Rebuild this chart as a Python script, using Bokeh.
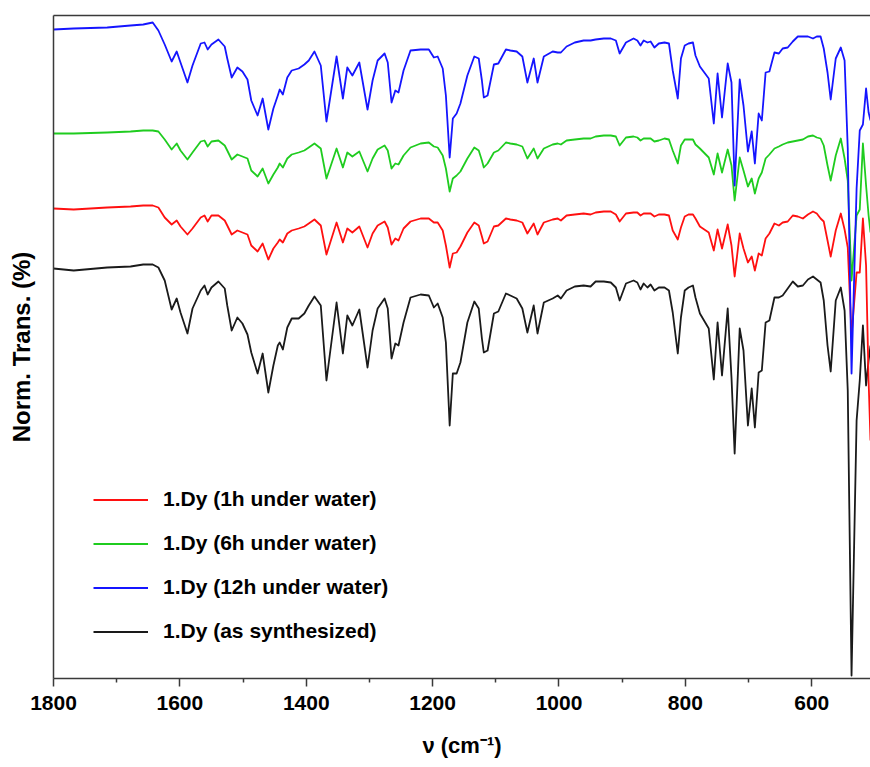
from bokeh.plotting import figure
from bokeh.models import Range1d, FixedTicker, LinearAxis, Legend, LegendItem, ColumnDataSource
from bokeh.embed import file_html
from bokeh.resources import INLINE

# wavenumber grid (cm^-1)
wavenumber = [
    1800, 1768, 1715, 1678, 1658, 1643, 1634, 1624, 1613, 1605,
    1599, 1588, 1580, 1567, 1561, 1556, 1550, 1539, 1529, 1525,
    1518, 1509, 1501, 1493, 1487, 1477, 1469, 1460, 1452, 1445,
    1442, 1437, 1430, 1423, 1412, 1403, 1396, 1387, 1377, 1368,
    1352, 1342, 1335, 1327, 1316, 1303, 1295, 1287, 1276, 1271,
    1265, 1259, 1254, 1246, 1235, 1219, 1206, 1198, 1192, 1184,
    1179, 1173, 1168, 1162, 1156, 1145, 1134, 1127, 1122, 1119,
    1113, 1103, 1096, 1084, 1077, 1067, 1058, 1050, 1040, 1034,
    1024, 1010, 1002, 997, 988, 975, 961, 950, 942, 929,
    918, 910, 904, 894, 882, 876, 871, 866, 860, 855,
    849, 842, 833, 826, 820, 812, 807, 801, 795, 788,
    784, 777, 763, 755, 749, 742, 733, 727, 722, 714,
    708, 701, 695, 690, 684, 679, 673, 667, 659, 652,
    646, 638, 630, 622, 614, 606, 598, 592, 586, 581,
    575, 570, 562, 554, 548, 543, 537, 529, 524, 519,
    514, 510, 507,
]

# offset normalised transmission (arbitrary units)
trans_12h = [
    64.9, 65.0, 65.1, 65.3, 65.4, 65.6, 64.8, 63.4, 61.7, 62.7,
    61.6, 59.6, 61.3, 63.5, 63.6, 62.9, 63.4, 63.9, 63.2, 62.0,
    60.1, 61.1, 60.7, 59.9, 57.8, 56.3, 58.0, 54.9, 57.0, 58.3,
    58.9, 58.4, 60.1, 60.8, 61.0, 61.4, 61.8, 62.7, 61.3, 55.7,
    62.2, 58.0, 61.1, 60.3, 61.6, 56.9, 59.8, 61.8, 62.5, 61.6,
    57.6, 58.8, 58.6, 60.8, 62.8, 62.9, 62.9, 62.1, 62.2, 61.0,
    58.3, 52.1, 56.0, 56.5, 57.5, 60.3, 62.2, 62.0, 59.8, 58.1,
    58.3, 61.4, 61.5, 62.9, 62.8, 62.7, 62.2, 59.6, 62.0, 59.6,
    62.2, 62.7, 62.6, 62.6, 63.2, 63.6, 63.8, 63.8, 63.9, 64.0,
    64.0, 63.8, 62.5, 63.6, 64.0, 63.8, 63.3, 63.8, 63.6, 63.7,
    63.1, 63.5, 63.6, 63.5, 60.8, 58.0, 62.0, 63.3, 63.5, 63.6,
    62.3, 61.2, 60.0, 55.5, 60.5, 56.1, 61.5, 59.6, 49.3, 59.9,
    57.3, 52.7, 54.7, 51.5, 56.5, 55.8, 60.6, 60.7, 62.6, 62.5,
    63.0, 63.1, 63.7, 64.2, 64.2, 64.2, 64.0, 64.2, 64.2, 63.0,
    60.6, 57.9, 62.0, 63.1, 61.8, 53.0, 30.5, 49.0, 54.8, 55.4,
    59.0, 56.6, 55.8,
]

trans_6h = [
    54.5, 54.5, 54.6, 54.7, 54.8, 54.8, 54.7, 53.9, 52.9, 53.5,
    52.8, 51.9, 52.6, 53.7, 53.8, 53.2, 53.7, 53.8, 53.3, 52.8,
    51.9, 52.4, 52.2, 52.0, 50.8, 50.2, 51.0, 49.5, 50.4, 51.1,
    51.5, 51.1, 52.0, 52.4, 52.6, 52.8, 53.1, 53.5, 53.0, 50.0,
    53.0, 51.1, 52.6, 52.2, 52.7, 50.7, 52.0, 52.9, 53.3, 52.8,
    51.0, 51.5, 51.4, 52.3, 53.1, 53.5, 53.6, 53.2, 53.1, 52.3,
    51.0, 48.7, 50.0, 50.3, 50.7, 52.0, 53.1, 52.8, 51.8, 51.1,
    51.5, 52.6, 52.8, 53.6, 53.5, 53.4, 53.2, 52.0, 53.0, 52.0,
    53.0, 53.4, 53.5, 53.4, 53.8, 53.9, 54.0, 54.0, 54.2, 54.3,
    54.3, 54.2, 53.3, 54.1, 54.2, 54.1, 53.8, 54.0, 54.0, 54.0,
    53.7, 53.8, 54.0, 53.9, 52.8, 51.5, 53.3, 53.9, 53.9, 53.9,
    53.4, 53.0, 52.1, 50.4, 52.5, 50.6, 52.9, 51.3, 47.8, 52.1,
    50.8, 49.2, 50.0, 48.5, 50.0, 50.6, 52.0, 52.4, 53.0, 53.2,
    53.4, 53.6, 53.7, 53.8, 53.9, 54.2, 54.3, 54.1, 54.0, 53.3,
    51.3, 49.8, 52.3, 54.0, 52.0, 49.8, 39.8, 46.3, 46.9, 53.5,
    49.3, 46.3, 44.6,
]

trans_1h = [
    47.0, 46.9, 47.1, 47.2, 47.3, 47.3, 47.1, 46.1, 45.4, 45.8,
    45.2, 44.4, 45.0, 46.1, 46.3, 45.7, 46.3, 46.3, 45.8, 45.3,
    44.4, 44.8, 44.6, 44.4, 43.3, 42.7, 43.5, 41.9, 43.0, 43.6,
    43.9, 43.6, 44.5, 44.8, 45.0, 45.2, 45.5, 45.9, 45.3, 42.4,
    45.6, 43.6, 45.0, 44.6, 45.2, 43.1, 44.5, 45.3, 45.7, 45.1,
    43.4, 44.0, 43.8, 45.0, 45.7, 46.0, 46.0, 45.6, 45.6, 44.8,
    43.3, 41.1, 42.5, 42.6, 43.2, 44.6, 45.6, 45.3, 44.2, 43.5,
    43.7, 45.2, 45.3, 46.0, 45.9, 45.8, 45.6, 44.5, 45.5, 44.4,
    45.6, 45.9, 46.0, 45.8, 46.3, 46.4, 46.5, 46.4, 46.6, 46.7,
    46.7, 46.4, 45.7, 46.5, 46.6, 46.6, 46.3, 46.5, 46.5, 46.5,
    46.2, 46.4, 46.4, 46.3, 44.8, 43.9, 45.1, 46.2, 46.4, 46.4,
    46.0, 45.2, 44.6, 42.8, 44.9, 43.0, 45.4, 43.3, 40.2, 44.5,
    43.0, 41.6, 42.2, 40.8, 42.5, 42.3, 44.0, 44.5, 45.5, 45.3,
    45.6, 45.7, 46.3, 46.2, 46.0, 46.4, 46.7, 46.5, 46.0, 45.7,
    43.8, 42.2, 44.8, 46.5, 44.9, 43.1, 34.3, 40.6, 40.6, 46.0,
    41.3, 29.8, 23.8,
]

trans_as = [
    41.0, 40.8, 41.1, 41.2, 41.4, 41.4, 41.1, 39.8, 36.9, 38.0,
    36.6, 34.5, 37.0, 38.8, 39.3, 38.4, 39.1, 39.7, 39.0, 37.3,
    34.8, 36.1, 35.5, 34.4, 32.6, 30.5, 32.5, 28.6, 31.3, 33.3,
    33.6, 32.9, 35.1, 36.0, 36.0, 36.5, 37.3, 38.2, 37.3, 29.8,
    37.6, 32.5, 36.3, 35.3, 36.9, 31.1, 34.8, 37.0, 38.0, 37.0,
    32.0, 33.5, 33.3, 35.6, 38.1, 38.4, 38.3, 37.1, 37.5, 36.1,
    33.6, 25.3, 30.5, 30.5, 31.6, 35.6, 37.7, 37.0, 34.0, 32.6,
    32.8, 36.5, 36.7, 38.5, 38.3, 38.0, 37.0, 34.6, 37.3, 34.5,
    37.6, 38.0, 38.3, 38.0, 38.8, 39.2, 39.3, 39.2, 39.7, 39.7,
    39.6, 39.1, 37.8, 39.5, 39.8, 39.6, 38.9, 39.5, 39.1, 39.4,
    38.8, 39.1, 39.1, 38.8, 36.6, 32.5, 36.1, 38.8, 39.1, 39.3,
    38.1, 36.5, 35.0, 29.9, 35.6, 30.3, 37.0, 30.1, 22.5, 35.0,
    32.8, 25.3, 29.0, 25.1, 30.6, 30.8, 35.6, 35.8, 38.1, 38.1,
    38.3, 39.0, 39.7, 39.2, 39.3, 39.9, 40.2, 39.9, 39.6, 37.8,
    33.3, 30.7, 37.8, 39.1, 36.8, 28.8, 0.3, 25.8, 29.8, 35.3,
    29.3, 31.8, 33.3,
]

labels = [
    "1.Dy (1h under water)",
    "1.Dy (6h under water)",
    "1.Dy (12h under water)",
    "1.Dy (as synthesized)",
]
major_ticks = [1800, 1600, 1400, 1200, 1000, 800, 600]
minor_ticks = [1700, 1500, 1300, 1100, 900, 700]

FONT = "Liberation Sans"
AXIS_COLOR = "#3a3a3a"

src = ColumnDataSource(dict(x=wavenumber, a=trans_as, r=trans_1h, g=trans_6h, b=trans_12h))

p = figure(width=870, height=767, output_backend="svg", toolbar_location=None,
           x_range=Range1d(1800, 507), y_range=Range1d(0, 66.3),
           min_border_left=53, min_border_right=0, min_border_top=15, min_border_bottom=89)
p.xgrid.visible = False
p.ygrid.visible = False
p.outline_line_color = None
p.background_fill_color = "white"
p.border_fill_color = "white"

lw = 1.8
r_black = p.line("x", "a", source=src, line_color="#1a1a1a", line_width=lw, line_join="round")
r_red = p.line("x", "r", source=src, line_color="#ff1010", line_width=lw, line_join="round")
r_green = p.line("x", "g", source=src, line_color="#1fcc1f", line_width=lw, line_join="round")
r_blue = p.line("x", "b", source=src, line_color="#1515ff", line_width=lw, line_join="round")

# bottom axis
xa = p.xaxis[0]
xa.ticker = FixedTicker(ticks=major_ticks, minor_ticks=minor_ticks)
xa.major_tick_in = 0
xa.major_tick_out = 8
xa.minor_tick_in = 0
xa.minor_tick_out = 4
xa.axis_line_color = AXIS_COLOR
xa.axis_line_width = 1.5
xa.major_tick_line_color = AXIS_COLOR
xa.major_tick_line_width = 1.5
xa.minor_tick_line_color = AXIS_COLOR
xa.minor_tick_line_width = 1.5
xa.major_label_text_font = FONT
xa.major_label_text_font_style = "bold"
xa.major_label_text_font_size = "21px"
xa.major_label_text_color = "black"
xa.major_label_standoff = 9
xa.axis_label = "\u03bd (cm\u207b\u00b9)"
xa.axis_label_text_font = FONT
xa.axis_label_text_font_style = "bold"
xa.axis_label_text_font_size = "22px"
xa.axis_label_text_color = "black"
xa.axis_label_standoff = 20

# left axis
ya = p.yaxis[0]
ya.ticker = FixedTicker(ticks=[])
ya.major_tick_in = 0
ya.major_tick_out = 0
ya.minor_tick_in = 0
ya.minor_tick_out = 0
ya.axis_line_color = AXIS_COLOR
ya.axis_line_width = 1.5
ya.axis_label = "Norm. Trans. (%)"
ya.axis_label_text_font = FONT
ya.axis_label_text_font_style = "bold"
ya.axis_label_text_font_size = "24px"
ya.axis_label_text_color = "black"
ya.axis_label_standoff = 19

# top border line
top = LinearAxis(ticker=FixedTicker(ticks=[]), axis_line_color=AXIS_COLOR, axis_line_width=1.5,
                 major_tick_in=0, major_tick_out=0, minor_tick_in=0, minor_tick_out=0,
                 major_label_text_font_size="0px")
p.add_layout(top, "above")

legend = Legend(items=[
    LegendItem(label=labels[0], renderers=[r_red]),
    LegendItem(label=labels[1], renderers=[r_green]),
    LegendItem(label=labels[2], renderers=[r_blue]),
    LegendItem(label=labels[3], renderers=[r_black]),
], location=(40, 35))
legend.label_text_font = FONT
legend.label_text_font_style = "bold"
legend.label_text_font_size = "21px"
legend.label_text_color = "black"
legend.glyph_width = 55
legend.glyph_height = 21
legend.label_height = 21
legend.label_standoff = 15
legend.spacing = 20
legend.padding = 0
legend.margin = 0
legend.border_line_color = None
legend.background_fill_alpha = 0
p.add_layout(legend, "center")

open("out.html", "w").write(file_html(p, INLINE))
